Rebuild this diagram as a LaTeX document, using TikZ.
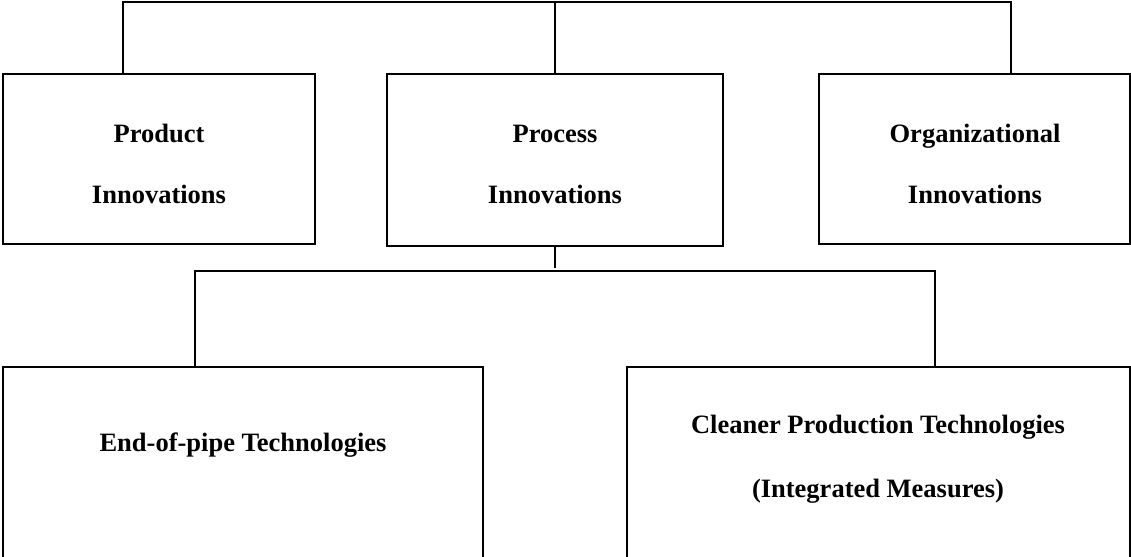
\documentclass[tikz,border=0pt]{standalone}
\usepackage{fontspec}
\setmainfont{Liberation Serif}
\begin{document}
\begin{tikzpicture}[x=1bp,y=-1bp,line width=1.6bp,
  box/.style={draw=black,anchor=north west,inner sep=0pt,outer sep=0pt,line width=1.6bp},
  lbl/.style={anchor=base,inner sep=0pt,font=\fontsize{26.6}{30}\selectfont\bfseries},
  conn/.style={draw=black,line width=1.6bp}]
\useasboundingbox (0,0) rectangle (1131,557);
\clip (0,0) rectangle (1131,557);
% boxes
\node[box,minimum width=312bp,minimum height=170bp] (b1) at (3,74) {};
\node[box,minimum width=336bp,minimum height=172bp] (b2) at (387,74) {};
\node[box,minimum width=311bp,minimum height=170bp] (b3) at (819,74) {};
\node[box,minimum width=480bp,minimum height=220bp] (b4) at (3,367) {};
\node[box,minimum width=503bp,minimum height=220bp] (b5) at (627,367) {};
% labels
\node[lbl] (l1a) at (159,143) {Product};
\node[lbl] (l1b) at (159,204) {Innovations};
\node[lbl] (l2a) at (555,143) {Process};
\node[lbl] (l2b) at (555,204) {Innovations};
\node[lbl] (l3a) at (975,143) {Organizational};
\node[lbl] (l3b) at (975,204) {Innovations};
\node[lbl] (l4) at (243,451) {End-of-pipe Technologies};
\node[lbl] (l5a) at (878,433) {Cleaner Production Technologies};
\node[lbl] (l5b) at (878,497) {(Integrated Measures)};
% top tree
\coordinate (t1) at (123,2);
\coordinate (t2) at (555,2);
\coordinate (t3) at (1011,2);
\draw[conn] (t1 |- b1.north) -- (t1) -- (t3) -- (t3 |- b3.north);
\draw[conn] (t2) -- (t2 |- b2.north);
% bottom tree
\coordinate (u0) at (555,268);
\coordinate (u1) at (195,271);
\coordinate (u2) at (935,271);
\draw[conn] (b2.south) -- (u0);
\draw[conn] (u1 |- b4.north) -- (u1) -- (u2) -- (u2 |- b5.north);
\end{tikzpicture}
\end{document}
